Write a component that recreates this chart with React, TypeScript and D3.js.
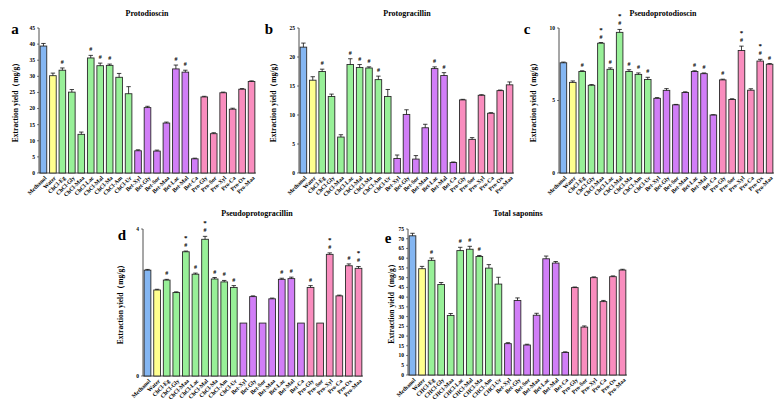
import * as d3 from 'd3';

// categories (panel e spells the ChCl group as CHCl)
const categories = ['Methanol', 'Water', 'ChCl-Eg', 'ChCl-Gly', 'ChCl-Maa', 'ChCl-Lac', 'ChCl-Mal', 'ChCl-Ma', 'ChCl-Am', 'ChCl-Ur',
  'Bet-Xyl', 'Bet-Gly', 'Bet-Sor', 'Bet-Maa', 'Bet-Lac', 'Bet-Mal', 'Bet-Ca',
  'Pro-Gly', 'Pro-Sor', 'Pro-Xyl', 'Pro-Ca', 'Pro-Ox', 'Pro-Maa'];
const categoriesE = categories.map(c => c.replace('ChCl', 'CHCl'));
const groups = ['m', 'w', 'c', 'c', 'c', 'c', 'c', 'c', 'c', 'c', 'b', 'b', 'b', 'b', 'b', 'b', 'b', 'p', 'p', 'p', 'p', 'p', 'p'];

const protodioscin = [39.4, 30.2, 31.9, 25.1, 12.0, 35.7, 33.3, 33.4, 29.7, 24.6, 6.9, 20.3, 6.8, 15.5, 32.3, 31.3, 4.4, 23.6, 12.2, 24.9, 19.8, 26.0, 28.4];
const protodioscinErr = [0.8, 0.8, 0.7, 0.8, 0.7, 0.8, 0.8, 0.4, 1.2, 2.2, 0.3, 0.4, 0.3, 0.3, 1.2, 0.6, 0.2, 0.2, 0.3, 0.2, 0.3, 0.2, 0.2];
const protodioscinMarks = ['', '', '#', '', '', '#', '#', '#', '', '', '', '', '', '', '#', '#', '', '', '', '', '', '', ''];

const protogracillin = [21.7, 16.0, 17.5, 13.2, 6.2, 18.7, 18.2, 18.1, 16.1, 13.2, 2.5, 10.1, 2.4, 7.8, 18.0, 16.8, 1.8, 12.6, 5.8, 13.4, 10.3, 14.2, 15.2];
const protogracillinErr = [0.7, 0.6, 0.4, 0.4, 0.4, 1.0, 0.5, 0.2, 0.6, 1.2, 0.6, 0.8, 0.6, 0.6, 0.3, 0.5, 0.1, 0.1, 0.3, 0.1, 0.1, 0.1, 0.5];
const protogracillinMarks = ['', '', '#', '', '', '#', '#', '#', '#', '', '', '', '', '', '#', '#', '', '', '', '', '', '', ''];

const pseudoprotodioscin = [7.6, 6.25, 7.0, 6.05, 8.95, 7.15, 9.7, 7.0, 6.8, 6.45, 5.15, 5.7, 4.7, 5.55, 7.0, 6.85, 4.0, 6.42, 5.07, 8.45, 5.71, 7.72, 7.5];
const pseudoprotodioscinErr = [0.05, 0.1, 0.05, 0.05, 0.05, 0.1, 0.2, 0.12, 0.1, 0.15, 0.05, 0.12, 0.03, 0.05, 0.05, 0.05, 0.02, 0.05, 0.05, 0.3, 0.1, 0.12, 0.05];
const pseudoprotodioscinMarks = ['', '', '#', '', '*#', '#', '*#', '#', '#', '#', '', '', '', '', '#', '#', '', '#', '', '*#', '', '*#', '#'];

const pseudoprotogracillin = [2.88, 2.34, 2.61, 2.27, 3.38, 2.77, 3.72, 2.64, 2.56, 2.41, 1.44, 2.16, 1.44, 2.10, 2.63, 2.65, 1.44, 2.41, 1.44, 3.31, 2.18, 3.0, 2.93];
const pseudoprotogracillinErr = [0.02, 0.02, 0.02, 0.02, 0.02, 0.03, 0.08, 0.04, 0.04, 0.05, 0, 0.02, 0, 0.02, 0.03, 0.04, 0, 0.05, 0, 0.04, 0.02, 0.05, 0.05];
const pseudoprotogracillinMarks = ['', '', '#', '', '*#', '#', '*#', '#', '#', '#', '', '', '', '', '#', '#', '', '#', '', '*#', '', '#', '*#'];

const totalSaponins = [71.5, 54.6, 58.9, 46.5, 30.6, 63.9, 64.6, 60.9, 54.9, 46.7, 16.1, 38.3, 15.4, 30.7, 59.7, 57.5, 11.6, 44.9, 24.6, 50.0, 37.7, 50.5, 53.9];
const totalSaponinsErr = [1.3, 1.2, 1.2, 1.0, 1.0, 1.7, 1.5, 0.5, 1.8, 3.5, 0.5, 1.3, 0.4, 1.0, 1.4, 0.8, 0.3, 0.3, 0.6, 0.4, 0.6, 0.4, 0.4];
const totalSaponinsMarks = ['', '', '#', '', '', '#', '#', '#', '', '', '', '', '', '', '', '', '', '', '', '', '', '', ''];

const groupColors: Record<string, string> = { m: '#84B6F2', w: '#FFFF8E', c: '#98F098', b: '#D17EF7', p: '#F98DBE' };
const font = '"Liberation Serif", "Times New Roman", serif';

type Box = { x0: number; x1: number; top: number; base: number; titleX: number; titleY: number; letterX: number; letterY: number; labelX: number };

function Panel({ title, letter, labels, values, errors, marks, yMax, ticks, box }: any) {
  const b: Box = box;
  const x = d3.scaleBand().domain(labels).range([b.x0, b.x1]).paddingInner(0.3).paddingOuter(0.12);
  const y = d3.scaleLinear().domain([0, yMax]).range([b.base, b.top]);
  const midY = (b.base + b.top) / 2;

  return (
    <g fontFamily={font} fontWeight="bold">
      <text x={b.titleX} y={b.titleY} textAnchor="middle" fontSize={8}>{title}</text>
      <text x={b.letterX} y={b.letterY} textAnchor="middle" fontSize={15}>{letter}</text>
      <text transform={`translate(${b.labelX},${midY}) rotate(-90)`} textAnchor="middle" fontSize={7.5} dy="0.35em">Extraction yield（mg/g）</text>

      {/* y axis */}
      <line x1={b.x0} x2={b.x0} y1={b.top} y2={b.base} stroke="#222" strokeWidth={0.8} />
      {ticks.map((t: number) => (
        <g key={t} transform={`translate(${b.x0},${y(t)})`}>
          <line x1={-2} x2={0} stroke="#222" strokeWidth={0.6} />
          <text x={-4} dy="0.35em" textAnchor="end" fontSize={5.5}>{t}</text>
        </g>
      ))}

      {/* x axis */}
      <line x1={b.x0} x2={b.x1} y1={b.base} y2={b.base} stroke="#222" strokeWidth={0.8} />

      {labels.map((c: string, i: number) => {
        const cx = x(c)! + x.bandwidth() / 2;
        const v = values[i];
        const e = errors[i];
        const top = y(v + e);
        const m: string = marks[i];
        return (
          <g key={c}>
            <rect x={x(c)} y={y(v)} width={x.bandwidth()} height={b.base - y(v)}
              fill={groupColors[groups[i]]} stroke="#2a2a2a" strokeWidth={0.9} />
            {e > 0 && (
              <g stroke="#111" strokeWidth={0.8}>
                <line x1={cx} x2={cx} y1={y(v)} y2={top} />
                <line x1={cx - 2.2} x2={cx + 2.2} y1={top} y2={top} />
              </g>
            )}
            {m.includes('#') && (
              <text x={cx} y={top - 4} textAnchor="middle" fontSize={6}>#</text>
            )}
            {m.includes('*') && (
              <text x={cx} y={top - 11} textAnchor="middle" fontSize={7}>*</text>
            )}
            <text transform={`translate(${cx + 2},${b.base + 4}) rotate(-45)`} textAnchor="end" fontSize={5.8} dy="0.35em">{c}</text>
          </g>
        );
      })}
    </g>
  );
}

export default function App() {
  return (
    <svg width={780} height={410} style={{ position: 'absolute', left: 0, top: 0, background: '#fff' }}>
      <Panel title="Protodioscin" letter="a" labels={categories} values={protodioscin} errors={protodioscinErr}
        marks={protodioscinMarks} yMax={45} ticks={d3.range(0, 46, 5)}
        box={{ x0: 39, x1: 256, top: 28, base: 173, titleX: 147, titleY: 16, letterX: 15, letterY: 34, labelX: 15 }} />
      <Panel title="Protogracillin" letter="b" labels={categories} values={protogracillin} errors={protogracillinErr}
        marks={protogracillinMarks} yMax={25} ticks={d3.range(0, 26, 5)}
        box={{ x0: 299, x1: 514, top: 28, base: 173, titleX: 407, titleY: 16, letterX: 269, letterY: 34, labelX: 273 }} />
      <Panel title="Pseudoprotodioscin" letter="c" labels={categories} values={pseudoprotodioscin} errors={pseudoprotodioscinErr}
        marks={pseudoprotodioscinMarks} yMax={10} ticks={[0, 5, 10]}
        box={{ x0: 559, x1: 774, top: 28, base: 173, titleX: 663, titleY: 16, letterX: 527, letterY: 34, labelX: 533 }} />
      <Panel title="Pseudoprotogracillin" letter="d" labels={categories} values={pseudoprotogracillin} errors={pseudoprotogracillinErr}
        marks={pseudoprotogracillinMarks} yMax={4} ticks={[0, 4]}
        box={{ x0: 143, x1: 363, top: 229, base: 376, titleX: 257, titleY: 216, letterX: 122, letterY: 240, labelX: 120 }} />
      <Panel title="Total saponins" letter="e" labels={categoriesE} values={totalSaponins} errors={totalSaponinsErr}
        marks={totalSaponinsMarks} yMax={75} ticks={d3.range(0, 76, 5)}
        box={{ x0: 408, x1: 627, top: 229, base: 375, titleX: 518, titleY: 216, letterX: 388, letterY: 243, labelX: 391 }} />
    </svg>
  );
}
